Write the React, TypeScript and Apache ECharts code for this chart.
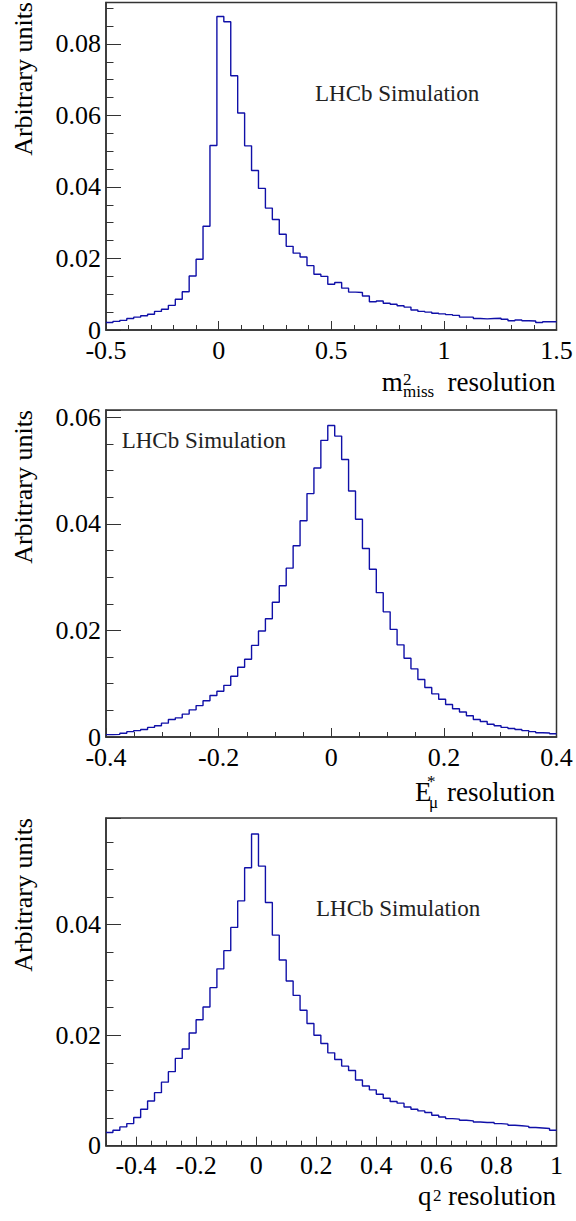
import React, { useEffect, useRef } from 'react';
import * as echarts from 'echarts';

// ---------------- data ----------------
const P1_RANGE = [-0.5, 1.5];
const P1_VALUES = [
  0.0021, 0.0024, 0.0027, 0.0032, 0.0036, 0.004, 0.0044, 0.0052, 0.0058, 0.0069,
  0.0086, 0.0107, 0.0151, 0.0198, 0.029, 0.0516, 0.0877, 0.0862, 0.0711, 0.0607,
  0.0515, 0.0446, 0.0396, 0.0341, 0.0309, 0.0268, 0.0234, 0.0215, 0.0204, 0.018,
  0.0156, 0.015, 0.0128, 0.0133, 0.0117, 0.0106, 0.0105, 0.0095, 0.0079, 0.0081,
  0.0075, 0.0072, 0.0068, 0.0064, 0.0056, 0.0052, 0.005, 0.0047, 0.0045, 0.0043,
  0.0041, 0.0036, 0.0036, 0.0032, 0.0031, 0.0032, 0.0033, 0.003, 0.0026, 0.0028,
  0.0026, 0.0025, 0.0021, 0.0023, 0.0023,
];
const P1_YMAX = 0.0916;
const P1_XTICK = 0.5;
const P1_YTICK = 0.02;

const P2_RANGE = [-0.4, 0.4];
const P2_VALUES = [
  0.00044, 0.0005, 0.0007, 0.001, 0.0012, 0.0014, 0.0018, 0.0021, 0.0026, 0.0033,
  0.0036, 0.0043, 0.0051, 0.0059, 0.0068, 0.0078, 0.0086, 0.0097, 0.0114, 0.0131,
  0.0146, 0.0172, 0.0199, 0.0222, 0.0253, 0.0284, 0.0317, 0.0359, 0.0406, 0.0457,
  0.0505, 0.0557, 0.0585, 0.0565, 0.0521, 0.0462, 0.0409, 0.0354, 0.0315, 0.0271,
  0.0235, 0.0202, 0.0173, 0.0148, 0.0128, 0.0108, 0.0093, 0.0081, 0.0071, 0.0061,
  0.0053, 0.0047, 0.004, 0.0033, 0.0029, 0.0024, 0.0021, 0.0018, 0.0016, 0.0014,
  0.0012, 0.001, 0.0008, 0.00075, 0.0006,
];
const P2_YMAX = 0.0614;
const P2_XTICK = 0.2;
const P2_YTICK = 0.02;

const P3_RANGE = [-0.5, 1.0];
const P3_VALUES = [
  0.0024, 0.0028, 0.0034, 0.004, 0.0051, 0.0066, 0.0081, 0.0096, 0.0115, 0.0134,
  0.0158, 0.0175, 0.0204, 0.0228, 0.0251, 0.0286, 0.032, 0.0353, 0.0395, 0.0443,
  0.0503, 0.0564, 0.0506, 0.044, 0.0381, 0.0336, 0.0298, 0.0272, 0.0245, 0.0221,
  0.02, 0.0185, 0.0168, 0.0156, 0.0144, 0.0136, 0.0119, 0.0108, 0.0101, 0.0093,
  0.0086, 0.008, 0.0077, 0.007, 0.0066, 0.0063, 0.006, 0.0055, 0.0052, 0.0049,
  0.0048, 0.0046, 0.0045, 0.0043, 0.0042, 0.0042, 0.004, 0.0039, 0.0037, 0.0036,
  0.0035, 0.0033, 0.0032, 0.0031, 0.0028,
];
const P3_YMAX = 0.0593;
const P3_XTICKS = [-0.4, -0.2, 0, 0.2, 0.4, 0.6, 0.8, 1.0];
const P3_XMINOR = 0.05;
const P3_YTICK = 0.02;

const Y_TITLE = 'Arbitrary units';
const LABEL_TEXT = 'LHCb Simulation';

// ---------------- helpers ----------------
function stepData(range: number[], values: number[]) {
  const n = values.length;
  const w = (range[1] - range[0]) / n;
  const pts: number[][] = values.map((v, i) => [range[0] + i * w, v]);
  pts.push([range[1], values[n - 1]]);
  return pts;
}

const FONT = 'Liberation Serif';
const AXIS_COLOR = '#333';
const LINE_COLOR = '#1010a8';

const GRIDS = [
  { left: 106, top: 2.5, width: 450.5, height: 327.5 },
  { left: 106, top: 410, width: 450.5, height: 327 },
  { left: 106, top: 818, width: 450.5, height: 327.7 },
];

const LABEL_STYLE = { show: true, color: '#000', fontFamily: FONT, fontSize: 26 };

function xAxisBase(gridIndex: number, range: number[]) {
  return {
    type: 'value',
    gridIndex,
    min: range[0],
    max: range[1],
    position: 'bottom',
    axisLine: { show: true, onZero: false, lineStyle: { color: AXIS_COLOR, width: 1.5 } },
    axisTick: { show: true, inside: true, length: 9, lineStyle: { color: AXIS_COLOR, width: 1 } },
    axisLabel: { ...LABEL_STYLE, margin: 7 },
    splitLine: { show: false },
  };
}

function yAxisBase(gridIndex: number, max: number, interval: number) {
  return {
    type: 'value',
    gridIndex,
    min: 0,
    max,
    interval,
    position: 'left',
    axisLine: { show: true, onZero: false, lineStyle: { color: AXIS_COLOR, width: 1.5 } },
    axisTick: { show: true, inside: true, length: 15, lineStyle: { color: AXIS_COLOR, width: 1 } },
    minorTick: { show: true, splitNumber: 4, length: 7.5, lineStyle: { color: AXIS_COLOR, width: 1 } },
    axisLabel: { ...LABEL_STYLE, margin: 5, showMaxLabel: false },
    splitLine: { show: false },
    minorSplitLine: { show: false },
  };
}

function txt(x: number, y: number, text: string, size: number, align: string, extra: any = {}) {
  const el: any = {
    type: 'text',
    x,
    y,
    style: {
      text,
      fill: extra.fill || '#000',
      fontFamily: FONT,
      fontSize: size,
      align,
      verticalAlign: 'middle',
    },
  };
  if (extra.rotation) el.rotation = extra.rotation;
  return el;
}

export default function App() {
  const ref = useRef<HTMLDivElement>(null);

  useEffect(() => {
    if (!ref.current) return;
    const chart = echarts.init(ref.current, undefined, { renderer: 'svg' });

    const option: any = {
      animation: false,
      backgroundColor: '#fff',
      grid: GRIDS.map((g) => ({
        ...g,
        show: true,
        borderColor: AXIS_COLOR,
        borderWidth: 1.5,
        backgroundColor: 'transparent',
        containLabel: false,
      })),
      xAxis: [
        {
          ...xAxisBase(0, P1_RANGE),
          interval: P1_XTICK,
          minorTick: { show: true, splitNumber: 5, length: 5, lineStyle: { color: AXIS_COLOR, width: 1 } },
        },
        {
          ...xAxisBase(1, P2_RANGE),
          interval: P2_XTICK,
          minorTick: { show: true, splitNumber: 4, length: 5, lineStyle: { color: AXIS_COLOR, width: 1 } },
        },
        {
          ...xAxisBase(2, P3_RANGE),
          axisTick: {
            show: true,
            inside: true,
            length: 9,
            customValues: P3_XTICKS,
            lineStyle: { color: AXIS_COLOR, width: 1 },
          },
          axisLabel: { ...LABEL_STYLE, margin: 7, customValues: P3_XTICKS },
        },
        {
          type: 'value',
          gridIndex: 2,
          min: P3_RANGE[0],
          max: P3_RANGE[1],
          interval: P3_XMINOR,
          position: 'bottom',
          axisLine: { show: false, onZero: false },
          axisTick: { show: true, inside: true, length: 5, lineStyle: { color: AXIS_COLOR, width: 1 } },
          axisLabel: { show: false },
          splitLine: { show: false },
        },
      ],
      yAxis: [
        yAxisBase(0, P1_YMAX, P1_YTICK),
        yAxisBase(1, P2_YMAX, P2_YTICK),
        yAxisBase(2, P3_YMAX, P3_YTICK),
      ],
      series: [
        { data: stepData(P1_RANGE, P1_VALUES), xAxisIndex: 0, yAxisIndex: 0 },
        { data: stepData(P2_RANGE, P2_VALUES), xAxisIndex: 1, yAxisIndex: 1 },
        { data: stepData(P3_RANGE, P3_VALUES), xAxisIndex: 2, yAxisIndex: 2 },
      ].map((s) => ({
        type: 'line',
        step: 'end',
        showSymbol: false,
        symbol: 'none',
        clip: true,
        lineStyle: { color: LINE_COLOR, width: 1.4 },
        ...s,
      })),
      graphic: [
        // y titles
        txt(23.5, 2, Y_TITLE, 26, 'right', { rotation: Math.PI / 2 }),
        txt(23.5, 410, Y_TITLE, 26, 'right', { rotation: Math.PI / 2 }),
        txt(23.5, 818, Y_TITLE, 26, 'right', { rotation: Math.PI / 2 }),
        // LHCb labels
        txt(315, 93.7, LABEL_TEXT, 23, 'left', { fill: '#222' }),
        txt(121.7, 440.3, LABEL_TEXT, 23, 'left', { fill: '#222' }),
        txt(316, 908.7, LABEL_TEXT, 23, 'left', { fill: '#222' }),
        // x title 1
        txt(555.5, 382.3, 'resolution', 27, 'right'),
        txt(381.7, 382.3, 'm', 27, 'left'),
        txt(403, 379, '2', 17, 'left'),
        txt(403, 391.3, 'miss', 17, 'left'),
        // x title 2
        txt(555, 792.3, 'resolution', 27, 'right'),
        txt(415, 792.3, 'E', 27, 'left'),
        txt(427, 781.5, '*', 17, 'left'),
        txt(429, 802, 'μ', 17, 'left'),
        // x title 3
        txt(556, 1195.5, 'resolution', 27, 'right'),
        txt(418, 1195.5, 'q', 27, 'left'),
        txt(433, 1195.7, '2', 17, 'left'),
      ],
    };

    chart.setOption(option);
    return () => chart.dispose();
  }, []);

  return (
    <div
      ref={ref}
      style={{ position: 'absolute', left: 0, top: 0, width: 576, height: 1221 }}
    />
  );
}
